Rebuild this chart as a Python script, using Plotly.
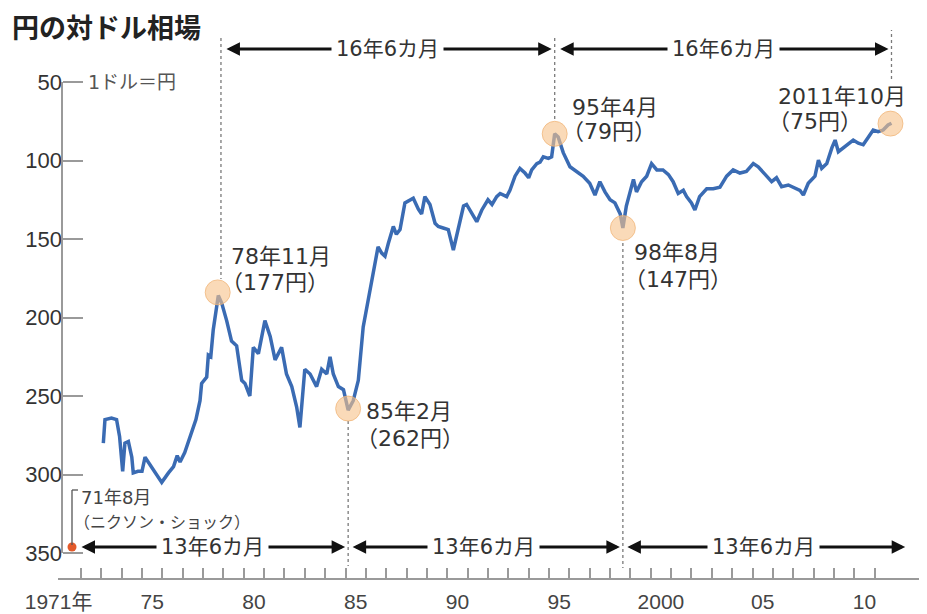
import plotly.graph_objects as go

# ---------------- data ----------------
dates = [
    1973.10, 1973.18, 1973.50, 1973.75, 1973.90, 1974.05, 1974.16, 1974.33, 1974.50, 1974.57,
    1974.80, 1975.00, 1975.15, 1975.30, 1975.55, 1975.97, 1976.30, 1976.55, 1976.73, 1976.87,
    1977.10, 1977.35, 1977.50, 1977.65, 1977.85, 1977.93, 1978.18, 1978.26, 1978.38, 1978.50,
    1978.75, 1978.92, 1979.16, 1979.40, 1979.65, 1979.90, 1980.06, 1980.30, 1980.47, 1980.72,
    1981.04, 1981.30, 1981.54, 1981.86, 1982.10, 1982.36, 1982.60, 1982.76, 1983.00, 1983.26,
    1983.58, 1983.83, 1984.08, 1984.24, 1984.40, 1984.65, 1984.90, 1985.13, 1985.38, 1985.63,
    1985.87, 1986.10, 1986.36, 1986.60, 1986.78, 1986.94, 1987.10, 1987.35, 1987.50, 1987.68,
    1987.92, 1988.17, 1988.33, 1988.58, 1988.74, 1988.90, 1989.15, 1989.40, 1989.56, 1989.80,
    1990.05, 1990.30, 1990.55, 1990.80, 1990.95, 1991.10, 1991.45, 1991.70, 1992.00, 1992.20,
    1992.43, 1992.60, 1992.92, 1993.08, 1993.33, 1993.57, 1993.82, 1994.00, 1994.15, 1994.40,
    1994.56, 1994.72, 1994.97, 1995.13, 1995.28, 1995.45, 1995.70, 1996.03, 1996.36, 1996.68,
    1997.00, 1997.26, 1997.50, 1997.75, 1998.00, 1998.24, 1998.50, 1998.63, 1998.80, 1998.98,
    1999.15, 1999.30, 1999.55, 1999.80, 2000.04, 2000.30, 2000.60, 2000.87, 2001.10, 2001.35,
    2001.60, 2001.76, 2002.00, 2002.17, 2002.40, 2002.75, 2003.07, 2003.40, 2003.73, 2004.05,
    2004.38, 2004.70, 2005.04, 2005.28, 2005.60, 2005.94, 2006.18, 2006.43, 2006.76, 2007.09,
    2007.33, 2007.50, 2007.74, 2008.07, 2008.24, 2008.40, 2008.65, 2008.90, 2009.06, 2009.22,
    2009.47, 2009.70, 2009.95, 2010.20, 2010.44, 2010.70, 2010.93, 2011.17, 2011.42, 2011.66,
    2011.83,
]
yen_per_dollar = [
    280, 265, 264, 265, 276, 298, 280, 279, 289, 299,
    298, 298, 289, 292, 297, 305, 299, 295, 288, 292,
    286, 276, 270, 265, 253, 242, 238, 224, 225, 208,
    186, 191, 202, 215, 218, 240, 242, 250, 219, 223,
    202, 212, 227, 219, 236, 244, 257, 270, 233, 236,
    244, 233, 236, 225, 236, 244, 246, 259, 253, 240,
    206, 189, 170, 155, 159, 161, 153, 142, 147, 144,
    127, 125, 124, 131, 134, 123, 128, 140, 142, 143,
    144, 157, 144, 129, 128, 131.5, 139, 131.5, 125, 128,
    123, 121, 123, 119, 110, 105, 108, 111, 106, 102,
    101, 97.6, 98.6, 97.6, 83, 85, 95, 104, 107, 110,
    114.5, 122, 113.5, 120, 125, 127, 134, 143, 129, 121,
    112, 120, 113.5, 110, 102, 106, 106, 109, 113.5, 121,
    119, 123, 127, 131.5, 123, 118, 118, 117, 110, 106,
    108, 107, 102, 104, 109, 113.5, 111, 116.7, 115.6, 117.7,
    119, 122, 114.5, 110, 99.7, 105, 102, 92, 87, 94.4,
    92, 90, 87, 89, 90, 85, 80.6, 81.7, 80.6, 77.4,
    76.3,
]

# highlighted turning points
event_dates = [1978.72, 1985.13, 1995.28, 1998.63, 2011.78]
event_values = [184, 258, 83, 143, 76.5]
event_line1 = ["78年11月", "85年2月", "95年4月", "98年8月", "2011年10月"]
event_line2 = ["（177円）", "（262円）", "（79円）", "（147円）", "（75円）"]

nixon_date = 1971.56
nixon_label = ["71年8月", "（ニクソン・ショック）"]

span_top = [(1978.88, 1995.28), (1995.28, 2011.83)]
span_top_text = ["16年6カ月", "16年6カ月"]
span_bottom = [(1971.56, 1985.13), (1985.13, 1998.63), (1998.63, 2012.65)]
span_bottom_text = ["13年6カ月", "13年6カ月", "13年6カ月"]

y_ticks = [50, 100, 150, 200, 250, 300, 350]
year_ticks = list(range(1972, 2012))
x_label_pos = [1970.9, 1975.5, 1980.5, 1985.5, 1990.5, 1995.5, 2000.5, 2005.5, 2010.5]
x_label_text = ["1971年", "75", "80", "85", "90", "95", "2000", "05", "10"]

# ---------------- layout helpers (screen pixel -> axis units) ----------------
VW, VH = 927, 614          # browser window
OFF = 8                    # default page margin around the figure
PL, PR, PT, PB = 58, 920, 30, 578   # plot area in screen pixels
W, H = VW - OFF, VH - OFF
ML, MR, MT, MB = PL - OFF, VW - PR, PT - OFF, VH - PB
PW, PH = PR - PL, PB - PT


def ypx(px):
    return 50 + (px - 82) / 1.57


def xpx(px):
    return 1975 + (px - 142) / 20.35


XR = [xpx(PL), xpx(PR)]
YR = [ypx(PB), ypx(PT)]

JP = "DejaVu Sans, Noto Sans CJK JP, sans-serif"
TXT = "#333333"
GRAY = "#9a9a9a"

fig = go.Figure()

fig.add_trace(go.Scatter(
    x=dates, y=yen_per_dollar, mode="lines",
    line=dict(color="#3a6bb3", width=3.5), hoverinfo="skip", showlegend=False))

fig.add_trace(go.Scatter(
    x=event_dates, y=event_values, mode="markers",
    marker=dict(size=25, color="rgba(247,196,140,0.62)",
                line=dict(color="rgba(240,176,112,0.7)", width=1)),
    hoverinfo="skip", showlegend=False))

fig.add_trace(go.Scatter(
    x=[nixon_date], y=[ypx(547)], mode="markers",
    marker=dict(size=9, color="#e35a2a"), hoverinfo="skip", showlegend=False))

shapes = []
# y-axis line from 50 to 350
shapes.append(dict(type="line", xref="x", yref="y", x0=xpx(62), x1=xpx(62),
                   y0=50, y1=350, line=dict(color=GRAY, width=2), layer="above"))
# dotted guides
guides = [(1978.88, 38, 279), (1995.28, 38, 120), (2011.83, 28, 82),
          (1985.13, 421, 566), (1998.63, 243, 568)]
for gx, p0, p1 in guides:
    shapes.append(dict(type="line", x0=gx, x1=gx, y0=ypx(p0), y1=ypx(p1),
                       line=dict(color="#7a7a7a", width=1.3, dash="dot"), layer="below"))
# nixon bracket
shapes.append(dict(type="line", x0=nixon_date, x1=nixon_date, y0=ypx(490), y1=ypx(545),
                   line=dict(color="#555", width=1.3)))
shapes.append(dict(type="line", x0=nixon_date, x1=xpx(78), y0=ypx(490), y1=ypx(490),
                   line=dict(color="#555", width=1.3)))

ann = []
# title
ann.append(dict(xref="paper", yref="paper", x=(10 - PL) / PW, y=(PB - 27) / PH,
                xanchor="left", yanchor="middle", showarrow=False,
                text="<b>円の対ドル相場</b>",
                font=dict(family="Noto Sans CJK JP", size=27, color="#222")))
# unit
ann.append(dict(x=xpx(86), y=50, xanchor="left", yanchor="middle", showarrow=False,
                text="1ドル＝円", font=dict(family=JP, size=19, color="#555")))


def arrow(t0, t1, yv, so0, so1):
    return dict(x=t1, y=yv, ax=t0, ay=yv, axref="x", ayref="y", xref="x", yref="y",
                text="", showarrow=True, arrowside="end+start", arrowhead=2,
                arrowsize=0.9, arrowwidth=3, arrowcolor="#111",
                standoff=so1, startstandoff=so0)


for (a, b), lab in zip(span_top, span_top_text):
    ann.append(arrow(a, b, ypx(49), 4, 3))
    ann.append(dict(x=(a + b) / 2, y=ypx(49), text=lab, showarrow=False,
                    bgcolor="white", borderpad=4,
                    font=dict(family=JP, size=21, color=TXT)))
for i, ((a, b), lab) in enumerate(zip(span_bottom, span_bottom_text)):
    ann.append(arrow(a, b, ypx(547), 8 if i == 0 else 3, 3))
    ann.append(dict(x=(a + b) / 2 - (0.1 if i else -0.1), y=ypx(547), text=lab,
                    showarrow=False, bgcolor="white", borderpad=4,
                    font=dict(family=JP, size=21, color=TXT)))

# event labels (left x px, line1 y px, line2 y px)
label_pos = [(229, 256, 282), (364, 411, 438), (570, 107, 131), (632, 252, 279), (776, 96, 121)]
for (lx, y1, y2), t1, t2 in zip(label_pos, event_line1, event_line2):
    ann.append(dict(x=xpx(lx), y=ypx(y1), text=t1, xanchor="left", showarrow=False,
                    font=dict(family=JP, size=22, color=TXT)))
    ann.append(dict(x=xpx(lx - 10), y=ypx(y2), text=t2, xanchor="left", showarrow=False,
                    font=dict(family=JP, size=22, color=TXT)))

ann.append(dict(x=xpx(79), y=ypx(497), text=nixon_label[0], xanchor="left", showarrow=False,
                font=dict(family=JP, size=18, color="#444")))
ann.append(dict(x=xpx(72), y=ypx(522), text=nixon_label[1], xanchor="left", showarrow=False,
                font=dict(family=JP, size=16, color="#444")))

fig.update_layout(
    width=W, height=H, margin=dict(l=ML, r=MR, t=MT, b=MB, autoexpand=False),
    paper_bgcolor="white", plot_bgcolor="white",
    shapes=shapes, annotations=ann, showlegend=False,
    xaxis=dict(range=XR, showline=True, linecolor=GRAY, linewidth=2, automargin=False,
               tickmode="array", tickvals=x_label_pos, ticktext=x_label_text,
               ticks="outside", ticklen=4, tickcolor="rgba(0,0,0,0)",
               tickfont=dict(family="Liberation Sans, Noto Sans CJK JP",
                             size=21, color="#444"),
               minor=dict(tickmode="array", tickvals=year_ticks, ticks="inside",
                          ticklen=10, tickcolor=GRAY, tickwidth=1.5),
               showgrid=False, zeroline=False, fixedrange=True),
    yaxis=dict(range=YR, tickmode="array", tickvals=y_ticks, automargin=False,
               ticks="inside", ticklen=20, tickcolor=GRAY, tickwidth=2,
               showline=False, anchor="free", position=(62 - PL) / PW,
               tickfont=dict(family="Liberation Sans, Noto Sans CJK JP", size=22, color="#333"),
               showgrid=False, zeroline=False, fixedrange=True),
)

fig.write_html("out.html")
